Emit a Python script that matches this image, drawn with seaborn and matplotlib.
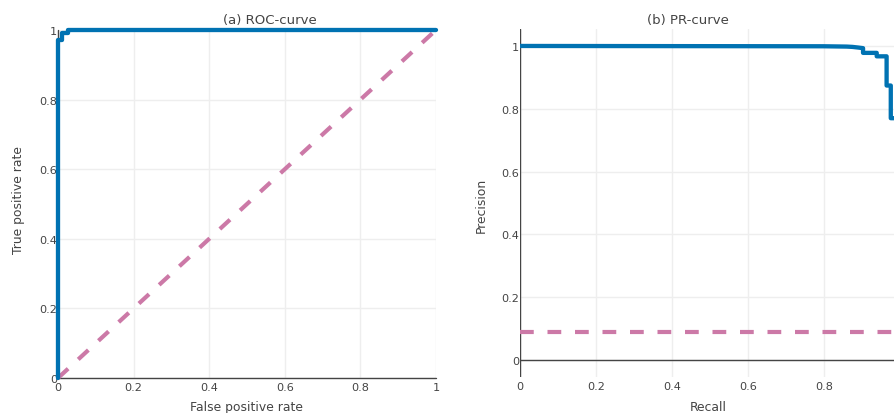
import matplotlib
matplotlib.use("Agg")
import matplotlib.pyplot as plt
import seaborn as sns
import pandas as pd

sns.set_theme(style="white")
plt.rcParams["font.family"] = ["DejaVu Sans"]

# ROC curve of the classifier and the chance diagonal
roc_fpr = [0.0, 0.0, 0.01, 0.01, 0.026, 0.026, 1.0]
roc_tpr = [0.0, 0.97, 0.97, 0.99, 0.99, 1.0, 1.0]
chance_fpr = [0.0, 1.0]
chance_tpr = [0.0, 1.0]

# precision-recall curve and the no-skill baseline
pr_recall = [0.0, 0.80, 0.86, 0.875, 0.89, 0.903, 0.903, 0.939, 0.939,
             0.965, 0.965, 0.976, 0.976, 0.995]
pr_precision = [1.0, 0.999, 0.998, 0.997, 0.995, 0.993, 0.978, 0.978, 0.967,
                0.967, 0.874, 0.874, 0.77, 0.77]
baseline_recall = [0.0, 0.995]
baseline_precision = [0.09, 0.09]

ticks = [0, 0.2, 0.4, 0.6, 0.8, 1]
tick_labels = ["0", "0.2", "0.4", "0.6", "0.8", "1"]

BLUE = "#0072B2"
PINK = "#CC79A7"
TEXT = "#444444"
GRID = "#eeeeee"

W, H = 894, 414
fig = plt.figure(figsize=(W / 100, H / 100), dpi=100)


def px_axes(left, top, width, height):
    return fig.add_axes([left / W, (H - top - height) / H, width / W, height / H])


def px_text(x, y, s, **kw):
    fig.text(x / W, 1 - y / H, s, color=TEXT, **kw)


def style(ax, xlim, ylim, xticks):
    ax.set_xlim(*xlim)
    ax.set_ylim(*ylim)
    ax.set_xticks(xticks)
    ax.set_xticklabels(tick_labels[:len(xticks)])
    ax.set_yticks(ticks)
    ax.set_yticklabels(tick_labels)
    for s in ax.spines.values():
        s.set_visible(False)
    ax.grid(True, color=GRID, lw=1)
    ax.set_axisbelow(True)
    ax.tick_params(axis="x", length=0, labelsize=8.1, colors=TEXT, pad=2.6)
    ax.tick_params(axis="y", length=0, labelsize=8.1, colors=TEXT, pad=0.8)
    ax.axhline(0, color=TEXT, lw=1, zorder=1.5)
    ax.axvline(0, color=TEXT, lw=1, zorder=1.5)
    ax.set_xlabel("")
    ax.set_ylabel("")


def dashed(ax):
    ln = ax.lines[-1]
    ln.set_dashes((3.3, 3.3))
    ln.set_dash_capstyle("butt")


# (a) ROC
ax1 = px_axes(58, 31, 378, 348)
roc = pd.DataFrame({"fpr": roc_fpr, "tpr": roc_tpr})
chance = pd.DataFrame({"fpr": chance_fpr, "tpr": chance_tpr})
sns.lineplot(data=chance, x="fpr", y="tpr", ax=ax1, color=PINK, lw=3.0,
             sort=False, estimator=None, zorder=2)
dashed(ax1)
sns.lineplot(data=roc, x="fpr", y="tpr", ax=ax1, color=BLUE, lw=3.1,
             sort=False, estimator=None, zorder=3)
style(ax1, (0, 1), (0, 1), ticks)
for ln in ax1.lines:
    ln.set_clip_on(False)

# (b) PR
ax2 = px_axes(520, 30, 378, 348)
pr = pd.DataFrame({"recall": pr_recall, "precision": pr_precision})
base = pd.DataFrame({"recall": baseline_recall, "precision": baseline_precision})
sns.lineplot(data=base, x="recall", y="precision", ax=ax2, color=PINK, lw=3.0,
             sort=False, estimator=None, zorder=2)
dashed(ax2)
sns.lineplot(data=pr, x="recall", y="precision", ax=ax2, color=BLUE, lw=3.1,
             sort=False, estimator=None, zorder=3)
style(ax2, (0, 0.995), (-0.054, 1.054), ticks[:-1])

# titles and axis titles
px_text(270, 20.5, "(a) ROC-curve", fontsize=9.5, ha="center", va="center")
px_text(688, 20.5, "(b) PR-curve", fontsize=9.5, ha="center", va="center")
px_text(246, 411, "False positive rate", fontsize=8.9, ha="center", va="baseline")
px_text(708, 411, "Recall", fontsize=8.9, ha="center", va="baseline")
px_text(19, 200, "True positive rate", fontsize=8.9, ha="center", va="center",
        rotation=90)
px_text(481.5, 205, "Precision", fontsize=8.9, ha="center", va="center",
        rotation=90)

fig.savefig("out.png", dpi=100, facecolor="white")
